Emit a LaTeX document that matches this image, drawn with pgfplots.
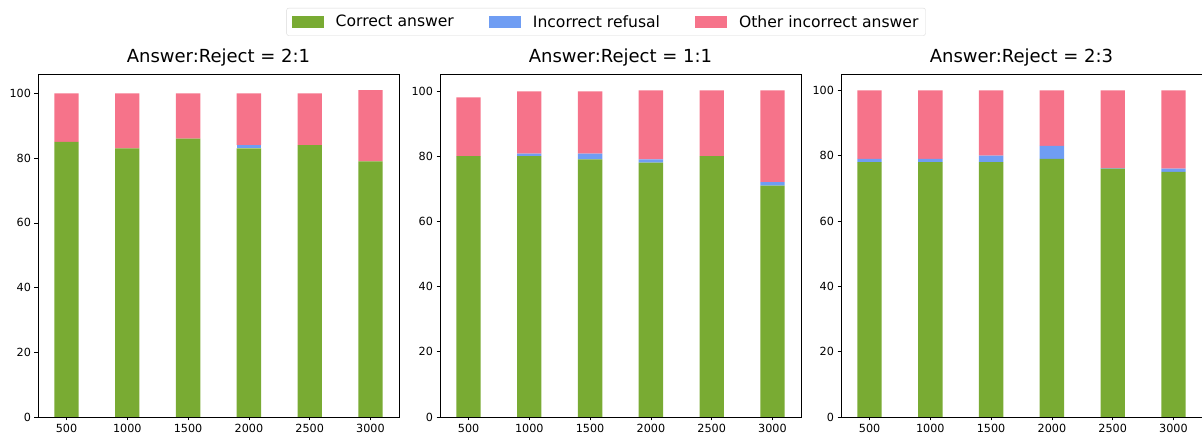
\documentclass[border=0pt]{standalone}
\usepackage{fontspec}
\setmainfont{DejaVu Sans}
\usepackage{pgfplots}
\usepackage{pgfplotstable}
\pgfplotsset{compat=1.18}

\definecolor{cgreen}{RGB}{121,171,51}
\definecolor{cblue}{RGB}{111,157,243}
\definecolor{cpink}{RGB}{246,115,138}

% x = training size, c = correct, r = incorrect refusal, o = other incorrect
\pgfplotstableread{
x c r o
500 85 0 15
1000 83 0 17
1500 86 0 14
2000 83 1 16
2500 84 0 16
3000 79 0 22
}\tabA
\pgfplotstableread{
x c r o
500 80 0 18
1000 80 0.8 19.1
1500 79 1.8 19.1
2000 78 1 21.2
2500 80 0 20.2
3000 71 1 28.2
}\tabB
\pgfplotstableread{
x c r o
500 78 1 21
1000 78 1 21
1500 78 2 20
2000 79 4 17
2500 76 0.2 23.8
3000 75 1 24
}\tabC

\pgfplotsset{
  panel/.style={
    scale only axis, width=361pt, height=343pt,
    ybar stacked, bar width=200,
    xmin=265, xmax=3235, ymin=0,
    xtick={500,1000,1500,2000,2500,3000},
    ytick={0,20,40,60,80,100},
    xtick pos=bottom, ytick pos=left,
    tick align=outside, major tick length=3.5pt,
    tick style={black, line width=0.6pt},
    axis line style={line width=0.6pt},
    /pgf/number format/1000 sep={},
    /pgf/number format/assume math mode=true,
    tick label style={font=\fontsize{11.2}{13}\selectfont},
    title style={font=\fontsize{18}{21}\selectfont, yshift=-2pt},
    area legend,
  },
}

\begin{document}
\begin{tikzpicture}
\useasboundingbox (0,0) rectangle (1202pt,435pt);

\begin{axis}[panel, at={(38pt,18pt)}, anchor=south west, ymax=106,
  title={Answer:Reject = 2:1}]
\addplot[fill=cgreen, draw=none] table[x=x, y=c] {\tabA};
\addplot[fill=cblue, draw=none] table[x=x, y=r] {\tabA};
\addplot[fill=cpink, draw=none] table[x=x, y=o] {\tabA};
\end{axis}

\begin{axis}[panel, at={(440pt,18pt)}, anchor=south west, ymax=105.2,
  title={Answer:Reject = 1:1},
  legend columns=3,
  legend style={at={(0.46,1.152)}, anchor=center,
    font=\fontsize{15.6}{18}\selectfont,
    draw=black!15, rounded corners=2pt,
    inner xsep=5pt, inner ysep=5pt,
    /tikz/every even column/.append style={column sep=33pt},
    /tikz/every odd column/.append style={column sep=10pt}},
  legend image code/.code={\fill[#1, sharp corners] (0pt,-6pt) rectangle (32pt,6pt);},
  legend cell align=left]
\addplot[fill=cgreen, draw=none] table[x=x, y=c] {\tabB};
\addplot[fill=cblue, draw=none] table[x=x, y=r] {\tabB};
\addplot[fill=cpink, draw=none] table[x=x, y=o] {\tabB};
\legend{Correct answer, Incorrect refusal, Other incorrect answer}
\end{axis}

\begin{axis}[panel, at={(841pt,18pt)}, anchor=south west, ymax=105,
  title={Answer:Reject = 2:3}]
\addplot[fill=cgreen, draw=none] table[x=x, y=c] {\tabC};
\addplot[fill=cblue, draw=none] table[x=x, y=r] {\tabC};
\addplot[fill=cpink, draw=none] table[x=x, y=o] {\tabC};
\end{axis}
\end{tikzpicture}
\end{document}
